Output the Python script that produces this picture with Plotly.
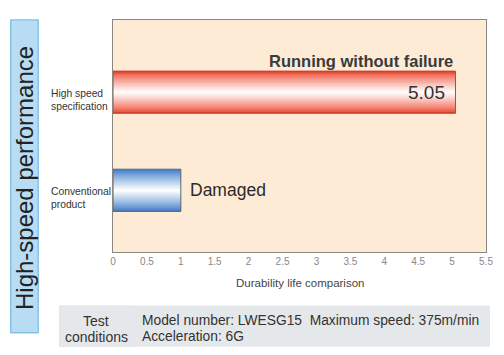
import plotly.graph_objects as go

# ---- data ----
categories = ["Conventional product", "High speed specification"]
cat_labels = ["Conventional<br>product", "High speed<br>specification"]
values = [1.0, 5.05]
value_text = ["", "5.05"]
status_text = ["Damaged", "Running without failure"]
x_ticks = [0, 0.5, 1, 1.5, 2, 2.5, 3, 3.5, 4, 4.5, 5, 5.5]
x_tick_labels = ["0", "0.5", "1", "1.5", "2", "2.5", "3", "3.5", "4", "4.5", "5", "5.5"]
grid_values = [1, 2, 3, 4, 5]

# ---- styling ----
FONT = "Liberation Sans, Arial, sans-serif"
OFF = 8  # page body margin
W, H = 504 - OFF, 355 - OFF
L, T = 113 - OFF, 19 - OFF
R = W - (489 - OFF)
B = H - (252 - OFF)
PW, PH = W - L - R, H - T - B

def px(x):
    return (x - OFF - L) / PW

def py(y):
    return (H - B - (y - OFF)) / PH

def mix(c, t):
    r, g, b = int(c[1:3], 16), int(c[3:5], 16), int(c[5:7], 16)
    return "#%02x%02x%02x" % (round(r + (255 - r) * t), round(g + (255 - g) * t), round(b + (255 - b) * t))

bar_w = 0.43
n_layers = 16
layer_frac = [1 - i / n_layers for i in range(n_layers)]
red_stops = ["#d8402e", "#ea5844", "#f06a56"]
blue_stops = ["#4a7cc2", "#5588cc", "#5e92d3"]
red_layers, blue_layers = [], []
for i in range(n_layers):
    if i < 3:
        red_layers.append(red_stops[i])
        blue_layers.append(blue_stops[i])
    else:
        t = ((i - 2) / (n_layers - 3)) ** 0.9 * 0.97
        red_layers.append(mix(red_stops[-1], t))
        blue_layers.append(mix(blue_stops[-1], t))

fig = go.Figure()
for frac, rc, bc in zip(layer_frac, red_layers, blue_layers):
    fig.add_trace(go.Bar(
        y=categories, x=values, orientation="h",
        width=bar_w * frac,
        marker=dict(color=[bc, rc], line=dict(width=0)),
        hoverinfo="skip", showlegend=False,
    ))
fig.add_trace(go.Bar(
    y=categories, x=values, orientation="h", width=bar_w,
    marker=dict(color="rgba(0,0,0,0)", line=dict(width=1, color=["#5d6670", "#c9412f"])),
    hoverinfo="skip", showlegend=False,
))

for v in grid_values:
    fig.add_vline(x=v, line=dict(color="#6f6458", width=1.2), layer="below")

annotations = []
for cat, lab in zip(categories, cat_labels):
    annotations.append(dict(
        x=px(48), xref="paper", y=cat, yref="y", yshift=-8,
        text=lab, showarrow=False, xanchor="left", yanchor="middle", align="left",
        font=dict(family=FONT, size=10.3, color="#333333"),
    ))
annotations.append(dict(
    x=values[0], y=categories[0], xref="x", yref="y", xshift=7,
    text=status_text[0], showarrow=False, xanchor="left", yanchor="middle",
    font=dict(family=FONT, size=17.5, color="#2a2a2a"),
))
annotations.append(dict(
    x=values[1], y=categories[1], xref="x", yref="y", yshift=31,
    text="<b>" + status_text[1] + "</b>", showarrow=False, xanchor="right", yanchor="middle",
    font=dict(family=FONT, size=16.5, color="#3a3a3a"),
))
annotations.append(dict(
    x=values[1], y=categories[1], xref="x", yref="y", xshift=-8,
    text=value_text[1], showarrow=False, xanchor="right", yanchor="middle",
    font=dict(family=FONT, size=19, color="#333333"),
))
annotations.append(dict(
    x=px(24), y=py(178), xref="paper", yref="paper",
    text="High-speed performance", textangle=-90, showarrow=False,
    xanchor="center", yanchor="middle",
    font=dict(family=FONT, size=24, color="#222222"),
))
annotations.append(dict(
    x=px(96), y=py(321), xref="paper", yref="paper", text="Test", showarrow=False,
    xanchor="center", yanchor="middle", font=dict(family=FONT, size=14, color="#333333"),
))
annotations.append(dict(
    x=px(96), y=py(337), xref="paper", yref="paper", text="conditions", showarrow=False,
    xanchor="center", yanchor="middle", font=dict(family=FONT, size=14, color="#333333"),
))
annotations.append(dict(
    x=px(140), y=py(321), xref="paper", yref="paper",
    text="Model number: LWESG15  Maximum speed: 375m/min", showarrow=False,
    xanchor="left", yanchor="middle", font=dict(family=FONT, size=13.8, color="#333333"),
))
annotations.append(dict(
    x=px(140), y=py(337), xref="paper", yref="paper",
    text="Acceleration: 6G", showarrow=False,
    xanchor="left", yanchor="middle", font=dict(family=FONT, size=13.8, color="#333333"),
))
annotations.append(dict(
    x=0.5, y=py(283), xref="paper", yref="paper",
    text="Durability life comparison", showarrow=False,
    xanchor="center", yanchor="middle", font=dict(family=FONT, size=11.5, color="#444444"),
))

shapes = [
    dict(type="rect", xref="paper", yref="paper", x0=px(10), x1=px(37.5), y0=py(333), y1=py(19),
         fillcolor="#b7dcf4", line=dict(color="#82bfe6", width=1.2), layer="below"),
    dict(type="rect", xref="paper", yref="paper", x0=px(59), x1=px(493), y0=py(347), y1=py(306),
         fillcolor="#e5e8eb", line=dict(width=0), layer="below"),
    dict(type="rect", xref="paper", yref="paper", x0=px(59), x1=px(133), y0=py(347), y1=py(306),
         fillcolor="#cbd5de", line=dict(width=0), layer="below"),
]

fig.update_layout(
    width=W, height=H,
    margin=dict(l=L, r=R, t=T, b=B),
    paper_bgcolor="white", plot_bgcolor="#fdebd6",
    barmode="overlay",
    font=dict(family=FONT),
    xaxis=dict(range=[0, 5.5], tickvals=x_ticks, ticktext=x_tick_labels,
               showgrid=False, zeroline=False, showline=True, mirror=True,
               linecolor="#8c8580", linewidth=1,
               tickfont=dict(family=FONT, size=10, color="#888888"), ticks="", fixedrange=True),
    yaxis=dict(type="category", categoryarray=categories, range=[-0.629, 1.736],
               showticklabels=False, showgrid=False, zeroline=False,
               showline=True, mirror=True, linecolor="#8c8580", linewidth=1, ticks=""),
    annotations=annotations,
    shapes=shapes,
)

fig.write_html("out.html")
